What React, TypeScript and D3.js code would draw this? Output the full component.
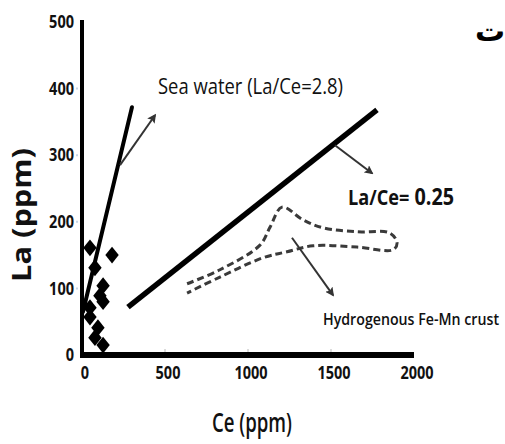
import * as d3 from 'd3'

const W = 505
const H = 444

// axis ticks
const xTicks = [0, 500, 1000, 1500, 2000]
const yTicks = [0, 100, 200, 300, 400, 500]

// sample points (Ce, La in ppm)
const sampleCe = [48, 181, 78, 127, 108, 127, 48, 48, 96, 78, 127]
const sampleLa = [161, 150, 131, 104, 89, 80, 71, 57, 41, 26, 15]

// sea water trend line
const seawaterCe = [6, 301]
const seawaterLa = [65, 372]

// La/Ce = 0.25 line
const ratioCe = [277, 1777]
const ratioLa = [72, 368]

// hydrogenous Fe-Mn crust field outline (dashed)
const envelopeCe = [633, 831, 1072, 1133, 1205, 1331, 1452, 1657, 1855, 1898, 1873, 1657, 1392, 1235, 1090, 831, 633]
const envelopeLa = [107, 128, 165, 192, 222, 203, 191, 185, 183, 168, 158, 162, 164, 155, 146, 117, 93]

// annotation arrows
const arrowFromCe = [229, 1524, 1265]
const arrowFromLa = [285, 315, 176]
const arrowToCe = [440, 1747, 1512]
const arrowToLa = [360, 273, 90]

const diamondTall = {
  draw(ctx: any, size: number) {
    const w = Math.sqrt(size) / 2
    const h = w * 1.25
    ctx.moveTo(0, -h)
    ctx.lineTo(w, 0)
    ctx.lineTo(0, h)
    ctx.lineTo(-w, 0)
    ctx.closePath()
  },
}

export default function App() {
  const x = d3.scaleLinear().domain([0, 2000]).range([82, 414])
  const y = d3.scaleLinear().domain([0, 500]).range([355, 22])

  const line = d3
    .line<[number, number]>()
    .x((d) => x(d[0]))
    .y((d) => y(d[1]))

  const envelope = d3
    .line<[number, number]>()
    .x((d) => x(d[0]))
    .y((d) => y(d[1]))
    .curve(d3.curveCatmullRom.alpha(0.5))

  const diamond = d3.symbol(diamondTall as any, 180)()

  const font = "'Open Sans', 'Liberation Sans', sans-serif"

  return (
    <svg
      width={W}
      height={H}
      viewBox={`0 0 ${W} ${H}`}
      style={{ position: 'absolute', left: 0, top: 0, background: '#fff' }}
    >
      <defs>
        <marker
          id="head"
          viewBox="0 0 10 10"
          refX="8"
          refY="5"
          markerWidth="9"
          markerHeight="9"
          markerUnits="userSpaceOnUse"
          orient="auto"
        >
          <path d="M0,0 L10,5 L0,10 L2,5 z" fill="#333" />
        </marker>
      </defs>

      {/* faint tick marks */}
      {yTicks.slice(1, 5).map((t) => (
        <line key={'yt' + t} x1={76} x2={78} y1={y(t)} y2={y(t)} stroke="#c5d6e8" strokeWidth={2} />
      ))}
      {xTicks.slice(1, 4).map((t) => (
        <line key={'xt' + t} x1={x(t)} x2={x(t)} y1={y(0) - 6} y2={y(0) - 3} stroke="#d0d0d0" strokeWidth={1.5} />
      ))}

      {/* axes */}
      <line x1={x(0)} x2={x(0)} y1={20} y2={y(0) + 3} stroke="#000" strokeWidth={4} />
      <line x1={x(0) - 2} x2={x(2000)} y1={y(0)} y2={y(0)} stroke="#000" strokeWidth={6} />

      {/* y tick labels */}
      {yTicks.map((t) => (
        <text
          key={'yl' + t}
          x={74}
          y={y(t)}
          dy="0.36em"
          textAnchor="end"
          fontFamily={font}
          fontWeight={700}
          fontSize={17}
          textLength={String(t).length * 8.3}
          lengthAdjust="spacingAndGlyphs"
          fill="#111"
        >
          {t}
        </text>
      ))}

      {/* x tick labels */}
      {xTicks.map((t) => (
        <text
          key={'xl' + t}
          x={x(t) + 3}
          y={379}
          textAnchor="middle"
          fontFamily={font}
          fontWeight={700}
          fontSize={17}
          textLength={String(t).length * 8.3}
          lengthAdjust="spacingAndGlyphs"
          fill="#111"
        >
          {t}
        </text>
      ))}

      {/* axis titles */}
      <text
        x={212}
        y={432}
        fontFamily={font}
        fontWeight={600}
        fontSize={27}
        textLength={80}
        lengthAdjust="spacingAndGlyphs"
        fill="#111"
      >
        Ce (ppm)
      </text>
      <text
        transform="translate(31,282) rotate(-90)"
        fontFamily={font}
        fontWeight={700}
        fontSize={27}
        textLength={134}
        lengthAdjust="spacingAndGlyphs"
        fill="#111"
      >
        La (ppm)
      </text>

      {/* dashed Fe-Mn crust field */}
      <path
        d={envelope(envelopeCe.map((c, i) => [c, envelopeLa[i]] as [number, number])) || ''}
        fill="none"
        stroke="#3a3a3a"
        strokeWidth={3}
        strokeDasharray="7 4"
      />

      {/* trend lines */}
      <path
        d={line(seawaterCe.map((c, i) => [c, seawaterLa[i]] as [number, number])) || ''}
        stroke="#000"
        strokeWidth={4}
        strokeLinecap="round"
        fill="none"
      />
      <path
        d={line(ratioCe.map((c, i) => [c, ratioLa[i]] as [number, number])) || ''}
        stroke="#000"
        strokeWidth={5.5}
        fill="none"
      />

      {/* arrows */}
      {arrowFromCe.map((c, i) => (
        <line
          key={'ar' + i}
          x1={x(c)}
          y1={y(arrowFromLa[i])}
          x2={x(arrowToCe[i])}
          y2={y(arrowToLa[i])}
          stroke="#333"
          strokeWidth={2}
          markerEnd="url(#head)"
        />
      ))}

      {/* sample points */}
      {sampleCe.map((c, i) => (
        <path key={'pt' + i} d={diamond || ''} transform={`translate(${x(c)},${y(sampleLa[i])})`} fill="#000" />
      ))}

      {/* annotations */}
      <text
        x={158}
        y={94}
        fontFamily={font}
        fontWeight={500}
        fontSize={21}
        textLength={185}
        lengthAdjust="spacingAndGlyphs"
        fill="#111"
      >
        Sea water (La/Ce=2.8)
      </text>
      <text
        x={348}
        y={205}
        fontFamily={font}
        fill="#111"
        textLength={106}
        lengthAdjust="spacingAndGlyphs"
      >
        <tspan fontSize={22} fontWeight={700}>La/Ce=</tspan>
        <tspan fontSize={24} fontWeight={700}> 0.25</tspan>
      </text>
      <text
        x={323}
        y={325}
        fontFamily={font}
        fontWeight={600}
        fontSize={17}
        textLength={176}
        lengthAdjust="spacingAndGlyphs"
        fill="#111"
      >
        Hydrogenous Fe-Mn crust
      </text>
      <text
        x={490}
        y={41}
        textAnchor="middle"
        fontFamily="'DejaVu Sans', sans-serif"
        fontWeight={700}
        fontSize={30}
        fill="#000"
      >
        ت
      </text>
    </svg>
  )
}
